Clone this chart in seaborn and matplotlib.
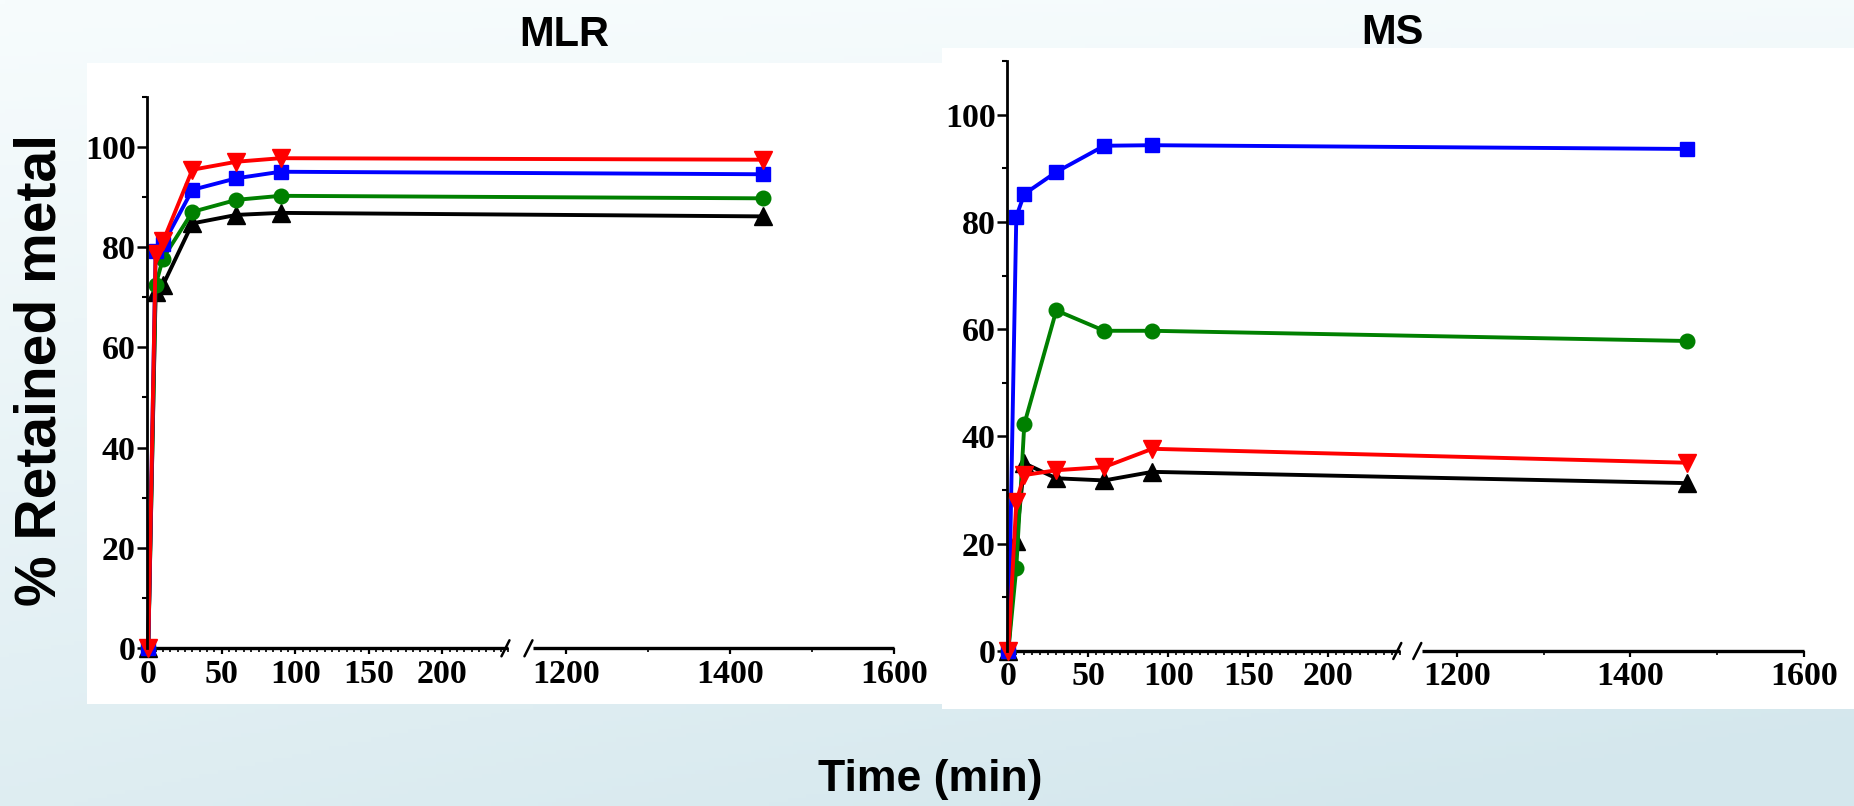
import numpy as np
import pandas as pd
import matplotlib
matplotlib.use("Agg")
import matplotlib.pyplot as plt
import seaborn as sns
from matplotlib.patches import Rectangle
from matplotlib.ticker import FixedLocator, FuncFormatter

# ---------------- data ----------------
series_names = ["black", "green", "blue", "red"]
series_colors = {"black": "#000000", "green": "#008000", "blue": "#0000ff", "red": "#ff0000"}
series_markers = {"black": "^", "green": "o", "blue": "s", "red": "v"}

mlr_time = [0, 5, 10, 30, 60, 90, 1440]
mlr_red = [0, 78.7, 81.1, 95.4, 97.0, 97.7, 97.4]
mlr_blue = [0, 79.3, 80.5, 91.4, 93.7, 95.0, 94.5]
mlr_green = [0, 72.4, 77.7, 87.0, 89.4, 90.2, 89.7]
mlr_black = [0, 71.0, 72.4, 84.7, 86.4, 86.8, 86.1]

ms_time = [0, 5, 10, 30, 60, 90, 1465]
ms_blue = [0, 81.0, 85.2, 89.3, 94.2, 94.3, 93.6]
ms_green = [0, 15.5, 42.3, 63.5, 59.7, 59.7, 57.8]
ms_red = [0, 27.8, 32.8, 33.7, 34.3, 37.7, 35.1]
ms_black = [0, 20.5, 35.0, 32.2, 31.8, 33.4, 31.3]

x_major_ticks = [0, 50, 100, 150, 200, 1200, 1400, 1600]
x_minor_ticks = [t for t in range(5, 250, 5) if t % 50 != 0] + [1300, 1500]
y_major_ticks = [0, 20, 40, 60, 80, 100]
y_minor_ticks = [10, 30, 50, 70, 90, 110]

panel_titles = ["MLR", "MS"]
y_label = "% Retained metal"
x_label = "Time (min)"

# ---------------- style ----------------
sns.set_style("white", rc={
    "xtick.bottom": True, "ytick.left": True,
    "xtick.color": "black", "ytick.color": "black",
    "text.color": "black", "axes.edgecolor": "black",
    "axes.labelcolor": "black",
})
plt.rcParams["font.family"] = ["Liberation Sans", "DejaVu Sans"]

W, H = 1854, 806
fig = plt.figure(figsize=(W / 100, H / 100), dpi=100)

# background gradient
bg = fig.add_axes([0, 0, 1, 1], zorder=-10)
u = np.linspace(0, 1, 400)[None, :]
v = np.linspace(0, 1, 200)[:, None]
f = np.clip(0.7 * v + 0.3 * u * v + 0.08 * u, 0, 1)
top = np.array([247, 252, 253]) / 255
bot = np.array([212, 231, 237]) / 255
img = top[None, None, :] + (bot - top)[None, None, :] * f[:, :, None]
bg.imshow(img, aspect="auto", extent=[0, 1, 0, 1], origin="upper")
bg.set_axis_off()

# white boxes behind each graph
fig.patches.append(Rectangle((87 / W, 1 - 704 / H), (942 - 87) / W, (704 - 63) / H,
                             transform=fig.transFigure, facecolor="white", edgecolor="none", zorder=-5))
fig.patches.append(Rectangle((942 / W, 1 - 709 / H), (1854 - 942) / W, (709 - 48) / H,
                             transform=fig.transFigure, facecolor="white", edgecolor="none", zorder=-5))


def make_scale(a1, gap, a2):
    xp = np.array([-1e4, 0, 245, 1160, 1600, 1e5])
    s1 = 245 * a1
    s2 = s1 + gap
    s3 = s2 + 440 * a2
    fp = np.array([-1e4 * a1, 0, s1, s2, s3, s3 + (1e5 - 1600) * a2])

    def forward(x):
        return np.interp(np.asarray(x, dtype=float), xp, fp)

    def inverse(t):
        return np.interp(np.asarray(t, dtype=float), fp, xp)
    return forward, inverse


serif = "Liberation Serif"
sans = "Liberation Sans"


def draw_panel(rect, times, values, scale_params, ax_h_px):
    ax = fig.add_axes(rect)
    ax.set_facecolor("none")
    for name in series_names:
        df = pd.DataFrame({"t": times, "v": values[name]})
        ms = 12.5 if name in ("black", "red") else 10.5
        sns.lineplot(data=df, x="t", y="v", ax=ax, color=series_colors[name],
                     marker=series_markers[name], markersize=ms,
                     markeredgecolor=series_colors[name], markeredgewidth=1,
                     linewidth=2.8, clip_on=False, sort=True, legend=False)
    fwd, inv = make_scale(*scale_params)
    ax.set_xscale("function", functions=(fwd, inv))
    ax.set_xlim(-1, 1600)
    ax.set_ylim(0, 110)
    ax.set_xlabel("")
    ax.set_ylabel("")

    for s in ["top", "right", "bottom"]:
        ax.spines[s].set_visible(False)
    ax.spines["left"].set_linewidth(2.0)

    # broken bottom axis line
    xt = ax.get_xaxis_transform()
    ax.plot([-1, 245], [0, 0], transform=xt, color="black", lw=2.4, clip_on=False,
            solid_capstyle="butt", zorder=1)
    ax.plot([1160, 1600], [0, 0], transform=xt, color="black", lw=2.4, clip_on=False,
            solid_capstyle="butt", zorder=1)
    # break slashes
    a1, gap, a2 = scale_params
    p_end = 245 * a1
    for off in (-3.0, gap - 5.0):
        pc = p_end + off
        ax.plot([inv(pc - 4), inv(pc + 4)], [-8 / ax_h_px, 8 / ax_h_px], transform=xt,
                color="black", lw=1.8, clip_on=False)

    ax.xaxis.set_major_locator(FixedLocator(x_major_ticks))
    ax.xaxis.set_minor_locator(FixedLocator(x_minor_ticks))
    ax.xaxis.set_major_formatter(FuncFormatter(lambda x, p: f"{int(round(x))}"))
    ax.xaxis.set_minor_formatter(FuncFormatter(lambda x, p: ""))
    ax.yaxis.set_major_locator(FixedLocator(y_major_ticks))
    ax.yaxis.set_minor_locator(FixedLocator(y_minor_ticks))

    ax.tick_params(axis="x", which="both", bottom=True, colors="black")
    ax.tick_params(axis="y", which="both", left=True, colors="black")
    ax.tick_params(axis="x", which="major", direction="out", length=4.5, width=1.6, pad=3)
    ax.tick_params(axis="x", which="minor", direction="out", length=2.8, width=1.2)
    ax.tick_params(axis="y", which="major", direction="out", length=7, width=1.8, pad=1)
    ax.tick_params(axis="y", which="minor", direction="out", length=3.6, width=1.5)
    for lab in ax.get_xticklabels() + ax.get_yticklabels():
        lab.set_fontfamily(serif)
        lab.set_fontweight("bold")
        lab.set_fontsize(24.5)
    return ax


ax1 = draw_panel([146.8 / W, 157.7 / H, 747.5 / W, 551.8 / H], mlr_time,
                 {"red": mlr_red, "blue": mlr_blue, "green": mlr_green, "black": mlr_black},
                 (1.47, 25.0, 0.82), 551.8)
ax2 = draw_panel([1006.7 / W, 155.0 / H, 797.3 / W, 590.0 / H], ms_time,
                 {"red": ms_red, "blue": ms_blue, "green": ms_green, "black": ms_black},
                 (1.6, 22.0, 0.8675), 590.0)

fig.text(564 / W, 1 - 35 / H, panel_titles[0], ha="center", va="center",
         fontsize=30, fontweight="bold", family=sans)
fig.text(1392 / W, 1 - 33 / H, panel_titles[1], ha="center", va="center",
         fontsize=30, fontweight="bold", family=sans)
fig.text(41 / W, 1 - 370 / H, y_label, ha="center", va="center", rotation=90,
         fontsize=41, fontweight="bold", family=sans)
fig.text(930 / W, 1 - 780 / H, x_label, ha="center", va="center",
         fontsize=32, fontweight="bold", family=sans)

fig.savefig("out.png", dpi=100)
